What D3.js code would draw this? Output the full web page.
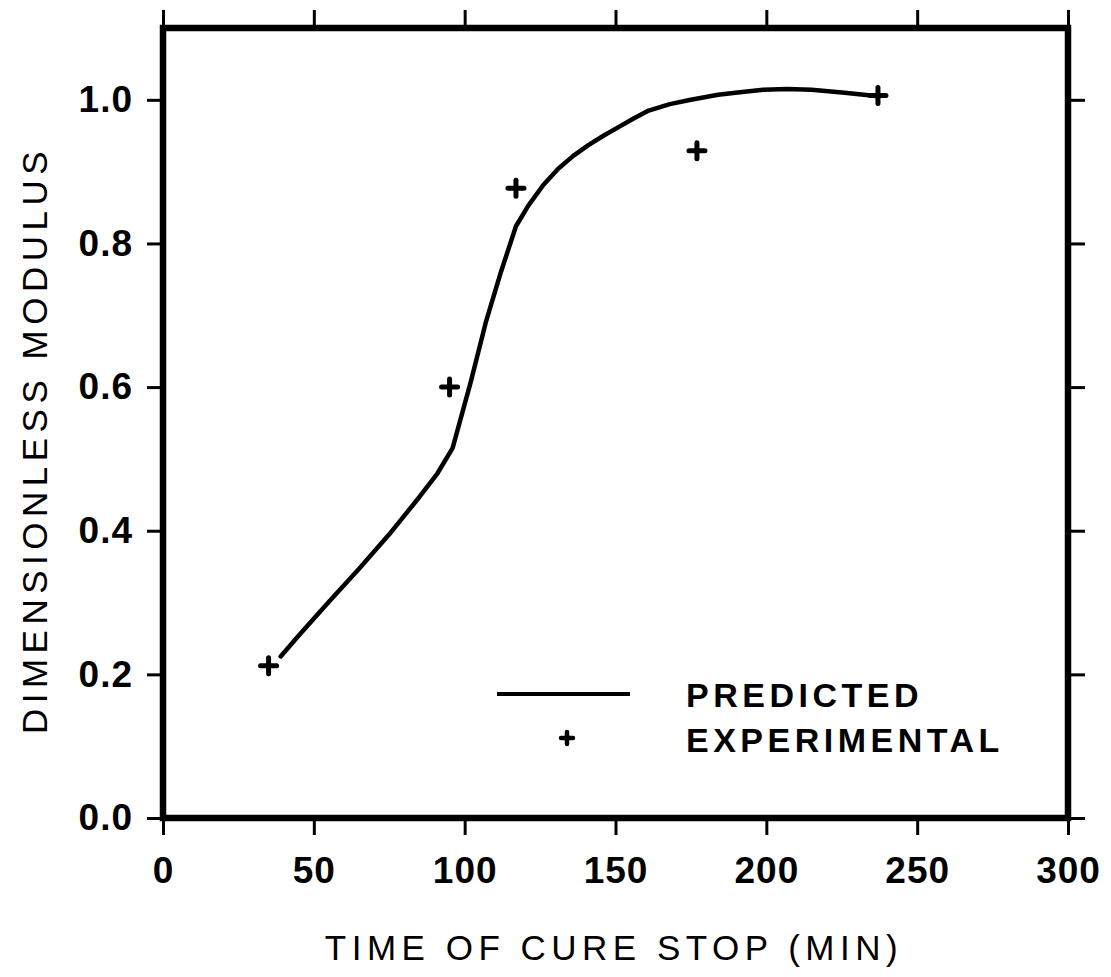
<!DOCTYPE html>
<html><head><meta charset="utf-8">
<script src="https://cdn.jsdelivr.net/npm/d3@7"></script>
<style>body{margin:0;background:#fff}svg{display:block}</style>
</head><body>
<svg id="c" width="1111" height="977"></svg>
<script>
const xTicks = [0, 50, 100, 150, 200, 250, 300];
const yTicks = [0.0, 0.2, 0.4, 0.6, 0.8, 1.0];
const predX = [39, 45, 55, 65, 75, 85, 91, 96, 102, 107, 112, 117, 121, 126, 131, 136, 141, 146, 151, 156, 161, 168, 175, 184, 192, 199, 207, 215, 226, 237];
const predY = [0.225, 0.254, 0.301, 0.347, 0.395, 0.447, 0.480, 0.515, 0.607, 0.690, 0.760, 0.824, 0.852, 0.881, 0.904, 0.922, 0.937, 0.950, 0.962, 0.974, 0.985, 0.994, 1.000, 1.007, 1.011, 1.014, 1.015, 1.014, 1.010, 1.005];
const expX = [35, 95, 117, 177, 237];
const expY = [0.212, 0.600, 0.877, 0.929, 1.006];
const xTitle = "TIME OF CURE STOP (MIN)";
const yTitle = "DIMENSIONLESS MODULUS";
const legendLabels = ["PREDICTED", "EXPERIMENTAL"];

const svg = d3.select("#c");
const L = 163, R = 1068, T = 28, B = 818;
const x = d3.scaleLinear().domain([0, 300]).range([L, R]);
const y = d3.scaleLinear().domain([0, 1.1]).range([B, T]);
const font = "'Liberation Sans', Arial, Helvetica, sans-serif";

// frame
svg.append("rect").attr("x", L).attr("y", T).attr("width", R - L).attr("height", B - T)
  .attr("fill", "none").attr("stroke", "#000").attr("stroke-width", 6.5);

// axes ticks (outward)
const axB = d3.axisBottom(x).tickValues(xTicks).tickSize(17).tickPadding(22).tickFormat(d3.format("d"));
const axT = d3.axisTop(x).tickValues(xTicks).tickSize(18).tickFormat("");
const axLft = d3.axisLeft(y).tickValues(yTicks).tickSize(16).tickPadding(14).tickFormat(d3.format(".1f"));
const axRt = d3.axisRight(y).tickValues(yTicks).tickSize(17).tickFormat("");
function style(g) {
  g.select(".domain").remove();
  g.selectAll(".tick line").attr("stroke", "#000").attr("stroke-width", 3);
  g.selectAll("text").attr("font-family", font).attr("font-weight", "bold").attr("font-size", 37)
    .attr("letter-spacing", 1).attr("fill", "#000");
}
svg.append("g").attr("transform", `translate(0,${B})`).call(axB).call(style);
svg.append("g").attr("transform", `translate(0,${T})`).call(axT).call(style);
svg.append("g").attr("transform", `translate(${L},0)`).call(axLft).call(style);
svg.append("g").attr("transform", `translate(${R},0)`).call(axRt).call(style);

// predicted line
const pts = predX.map((v, i) => [v, predY[i]]);
svg.append("path").datum(pts)
  .attr("d", d3.line().x(d => x(d[0])).y(d => y(d[1])).curve(d3.curveLinear))
  .attr("fill", "none").attr("stroke", "#000").attr("stroke-width", 4.5).attr("stroke-linejoin", "round").attr("stroke-linecap", "round");

// plus markers
function plus(g, cx, cy, s, w) {
  g.append("line").attr("x1", cx - s).attr("x2", cx + s).attr("y1", cy).attr("y2", cy)
    .attr("stroke", "#000").attr("stroke-width", w).attr("stroke-linecap", "round");
  g.append("line").attr("x1", cx).attr("x2", cx).attr("y1", cy - s).attr("y2", cy + s)
    .attr("stroke", "#000").attr("stroke-width", w).attr("stroke-linecap", "round");
}
const mg = svg.append("g");
expX.forEach((v, i) => plus(mg, x(v), y(expY[i]), 8, 5));

// legend
svg.append("line").attr("x1", 497).attr("x2", 630).attr("y1", 694).attr("y2", 694)
  .attr("stroke", "#000").attr("stroke-width", 4);
plus(svg, 567, 738, 6, 4.5);
svg.selectAll("text.leg").data(legendLabels).enter().append("text")
  .attr("x", 686).attr("y", (d, i) => 707 + i * 45)
  .attr("font-family", font).attr("font-weight", "bold").attr("font-size", 34)
  .attr("letter-spacing", 4.5)
  .text(d => d);

// axis titles
svg.append("text").attr("x", 614).attr("y", 960).attr("text-anchor", "middle")
  .attr("font-family", font).attr("font-size", 35).attr("letter-spacing", 5.5).text(xTitle);
svg.append("text").attr("transform", "translate(47,440) rotate(-90)").attr("text-anchor", "middle")
  .attr("font-family", font).attr("font-size", 35).attr("letter-spacing", 5.5).text(yTitle);
</script>
</body></html>
